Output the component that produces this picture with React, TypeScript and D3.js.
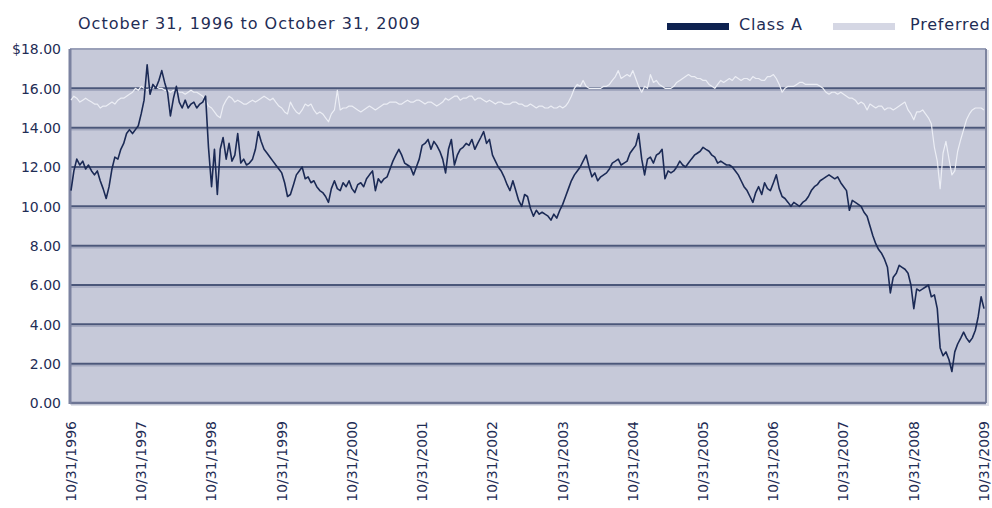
import React from 'react';
import * as d3 from 'd3';

// half-monthly closes, starting 10/31/1996
const startDate = '10/31/1996';
const stepsPerYear = 24;

const tickLabels = [
  '10/31/1996', '10/31/1997', '10/31/1998', '10/31/1999', '10/31/2000',
  '10/31/2001', '10/31/2002', '10/31/2003', '10/31/2004', '10/31/2005',
  '10/31/2006', '10/31/2007', '10/31/2008', '10/31/2009',
];
const yTicks = [0, 2, 4, 6, 8, 10, 12, 14, 16, 18];

const classA = [
  10.8, 11.8, 12.4, 12.1, 12.3, 11.9, 12.1, 11.8, 11.6, 11.8,
  11.3, 10.9, 10.4, 11.0, 11.9, 12.5, 12.4, 12.9, 13.2, 13.7,
  13.9, 13.7, 13.9, 14.1, 14.7, 15.4, 17.2, 15.7, 16.2, 16.0,
  16.4, 16.9, 16.3, 15.8, 14.6, 15.5, 16.1, 15.3, 15.0, 15.4,
  15.0, 15.2, 15.3, 15.0, 15.2, 15.3, 15.6, 13.0, 11.0, 12.9,
  10.6, 12.9, 13.5, 12.4, 13.2, 12.3, 12.6, 13.7, 12.2, 12.4,
  12.1, 12.2, 12.4, 12.9, 13.8, 13.3, 12.9, 12.7, 12.5, 12.3,
  12.1, 11.9, 11.7, 11.2, 10.5, 10.6, 11.1, 11.6, 11.8, 12.0,
  11.4, 11.5, 11.2, 11.3, 11.0, 10.8, 10.7, 10.5, 10.2, 10.9,
  11.3, 10.9, 10.8, 11.2, 11.0, 11.3, 10.9, 10.7, 11.1, 11.2,
  11.0, 11.4, 11.6, 11.8, 10.8, 11.4, 11.2, 11.4, 11.5, 11.9,
  12.3, 12.6, 12.9, 12.6, 12.2, 12.1, 12.0, 11.6, 12.0, 12.4,
  13.1, 13.2, 13.4, 12.9, 13.3, 13.1, 12.8, 12.4, 11.7, 12.9,
  13.4, 12.1, 12.6, 12.9, 13.0, 13.2, 13.1, 13.4, 12.9, 13.2,
  13.5, 13.8, 13.2, 13.4, 12.6, 12.3, 12.0, 11.8, 11.5, 11.1,
  10.8, 11.3, 10.8, 10.3, 10.0, 10.6, 10.5, 9.9, 9.5, 9.8,
  9.6, 9.7, 9.6, 9.5, 9.3, 9.6, 9.4, 9.8, 10.1, 10.5,
  10.9, 11.3, 11.6, 11.8, 12.0, 12.3, 12.6, 12.0, 11.5, 11.7,
  11.3, 11.5, 11.6, 11.7, 11.9, 12.2, 12.3, 12.4, 12.1, 12.2,
  12.3, 12.7, 12.9, 13.1, 13.7, 12.4, 11.6, 12.4, 12.5, 12.2,
  12.6, 12.7, 12.9, 11.4, 11.8, 11.7, 11.8, 12.0, 12.3, 12.1,
  12.0, 12.2, 12.4, 12.6, 12.7, 12.8, 13.0, 12.9, 12.8, 12.6,
  12.5, 12.2, 12.3, 12.2, 12.1, 12.1, 12.0, 11.8, 11.6, 11.3,
  11.0, 10.8, 10.5, 10.2, 10.7, 11.0, 10.6, 11.2, 10.9, 10.8,
  11.2, 11.6, 10.9, 10.5, 10.4, 10.2, 10.0, 10.2, 10.1, 10.0,
  10.2, 10.3, 10.5, 10.8, 11.0, 11.1, 11.3, 11.4, 11.5, 11.6,
  11.5, 11.4, 11.5, 11.2, 11.0, 10.8, 9.8, 10.3, 10.2, 10.1,
  10.0, 9.7, 9.5, 9.0, 8.5, 8.1, 7.8, 7.6, 7.3, 6.9,
  5.6, 6.4, 6.6, 7.0, 6.9, 6.8, 6.6, 6.0, 4.8, 5.8,
  5.7, 5.8, 5.9, 6.0, 5.4, 5.5, 4.8, 2.8, 2.4, 2.6,
  2.2, 1.6, 2.6, 3.0, 3.3, 3.6, 3.3, 3.1, 3.3, 3.7,
  4.4, 5.4, 4.8,
];

const preferred = [
  15.4, 15.6, 15.5, 15.3, 15.4, 15.5, 15.4, 15.3, 15.2, 15.2,
  15.0, 15.1, 15.1, 15.2, 15.3, 15.2, 15.4, 15.5, 15.5, 15.6,
  15.7, 15.8, 16.0, 15.9, 16.1, 16.0, 15.9, 16.0, 16.0, 16.1,
  16.0, 16.0, 15.9, 15.9, 15.8, 15.9, 15.9, 15.8, 15.8, 15.7,
  15.8, 15.9, 15.8, 15.8, 15.7, 15.6, 15.4, 15.1, 15.0, 14.8,
  14.6, 14.5, 15.1, 15.4, 15.6, 15.5, 15.3, 15.4, 15.3, 15.2,
  15.2, 15.3, 15.4, 15.3, 15.4, 15.5, 15.6, 15.5, 15.4, 15.5,
  15.3, 15.1, 15.0, 14.8, 14.7, 15.3, 15.0, 14.8, 14.7, 14.9,
  15.2, 15.1, 15.2, 14.9, 14.7, 14.8, 14.7, 14.5, 14.3, 14.7,
  14.9, 15.9, 14.9, 15.0, 15.0, 15.1, 15.1, 15.0, 14.9, 14.8,
  14.9, 15.0, 15.1, 15.0, 14.9, 15.0, 15.1, 15.2, 15.2, 15.3,
  15.3, 15.3, 15.2, 15.2, 15.3, 15.4, 15.3, 15.3, 15.4, 15.4,
  15.3, 15.2, 15.3, 15.3, 15.2, 15.1, 15.2, 15.3, 15.5, 15.4,
  15.5, 15.6, 15.6, 15.4, 15.5, 15.5, 15.6, 15.6, 15.4, 15.5,
  15.5, 15.4, 15.3, 15.4, 15.3, 15.2, 15.3, 15.3, 15.2, 15.2,
  15.2, 15.3, 15.3, 15.2, 15.2, 15.1, 15.1, 15.2, 15.1, 15.0,
  15.1, 15.1, 15.0, 15.0, 15.1, 15.0, 15.0, 15.1, 15.0, 15.1,
  15.3, 15.6, 16.0, 16.2, 16.1, 16.4, 16.1, 16.0, 16.0, 16.0,
  16.0, 16.0, 16.1, 16.1, 16.2, 16.4, 16.6, 16.9, 16.5, 16.6,
  16.7, 16.6, 16.9, 16.5, 16.1, 15.8, 16.1, 16.0, 16.7, 16.3,
  16.4, 16.2, 16.1, 16.0, 16.0, 16.0, 16.1, 16.3, 16.4, 16.5,
  16.6, 16.7, 16.6, 16.6, 16.5, 16.5, 16.4, 16.4, 16.2, 16.1,
  16.0, 16.2, 16.4, 16.3, 16.4, 16.5, 16.4, 16.6, 16.5, 16.4,
  16.5, 16.5, 16.4, 16.6, 16.5, 16.5, 16.4, 16.4, 16.6, 16.6,
  16.7, 16.5, 16.2, 15.8, 16.0, 16.1, 16.1, 16.1, 16.2, 16.3,
  16.3, 16.2, 16.2, 16.2, 16.2, 16.2, 16.1, 16.0, 15.8, 15.7,
  15.8, 15.8, 15.7, 15.8, 15.7, 15.6, 15.5, 15.5, 15.4, 15.2,
  15.3, 15.2, 14.9, 15.2, 15.1, 15.0, 15.1, 15.1, 14.9, 15.0,
  15.0, 14.9, 15.0, 15.1, 15.2, 15.3, 14.9, 14.7, 14.4, 14.8,
  14.8, 14.9, 14.7, 14.5, 14.2, 13.0, 12.3, 10.9, 12.7, 13.3,
  12.4, 11.6, 11.8, 12.8, 13.4, 13.9, 14.4, 14.7, 14.9, 15.0,
  15.0, 15.0, 14.9,
];

const title = 'October 31, 1996 to October 31, 2009';
const seriesNames = ['Class A', 'Preferred'];

const W = 992;
const H = 508;
const plot = {left: 70, right: 986, top: 49, bottom: 403};
const textColor = '#1f2d55';
const font = '"DejaVu Sans", sans-serif';

const parse = d3.timeParse('%m/%d/%Y');
const start = parse(startDate) as Date;
const dateAt = (i: number) =>
  d3.timeDay.offset(start, Math.round(i * 365.25 / stepsPerYear));

export default function App() {
  const tickDates = tickLabels.map((s) => parse(s) as Date);

  const x = d3.scaleTime()
      .domain([tickDates[0], tickDates[tickDates.length - 1]])
      .range([plot.left + 1, plot.right - 2]);
  const y = d3.scaleLinear().domain([0, 18]).range([plot.bottom, plot.top]);

  const line = d3.line<number>()
      .x((d, i) => x(dateAt(i)))
      .y((d) => y(d));

  return (
    <svg width={W} height={H} style={{position: 'absolute', left: 0, top: 0}}
      fontFamily={font}>
      <rect width={W} height={H} fill="#ffffff" />

      {/* title */}
      <text x={78} y={29} fill={textColor} fontSize={16} letterSpacing={1}>
        {title}
      </text>

      {/* legend */}
      <rect x={667} y={23} width={62} height={7} fill="#0e2250" />
      <text x={739} y={30} fill={textColor} fontSize={16} letterSpacing={0.8}>
        {seriesNames[0]}
      </text>
      <rect x={833} y={23} width={62} height={7} fill="#d5d7e4" />
      <text x={910} y={30} fill={textColor} fontSize={16} letterSpacing={0.8}>
        {seriesNames[1]}
      </text>

      {/* plot background with soft edge */}
      <rect x={plot.left + 1} y={plot.top + 1} width={plot.right - plot.left + 2}
        height={plot.bottom - plot.top + 2} fill="#dfe1e9" />
      <rect x={plot.left} y={plot.top} width={plot.right - plot.left}
        height={plot.bottom - plot.top} fill="#c6c9d9" />

      {/* gridlines */}
      {yTicks.filter((t) => t > 0 && t < 18).map((t) => (
        <g key={t}>
          <line x1={plot.left} x2={plot.right} y1={y(t) + 2} y2={y(t) + 2}
            stroke="#a4a9c0" strokeWidth={1.5} />
          <line x1={plot.left} x2={plot.right} y1={y(t)} y2={y(t)}
            stroke="#4b577a" strokeWidth={2} />
        </g>
      ))}

      {/* frame */}
      <line x1={plot.left} x2={plot.right} y1={plot.top} y2={plot.top}
        stroke="#9aa0b8" strokeWidth={2} />
      <line x1={plot.right} x2={plot.right} y1={plot.top} y2={plot.bottom}
        stroke="#7d849f" strokeWidth={2} />
      <line x1={plot.left} x2={plot.right} y1={plot.bottom} y2={plot.bottom}
        stroke="#6d7594" strokeWidth={2.5} />
      <line x1={plot.left} x2={plot.left} y1={plot.top} y2={plot.bottom + 1}
        stroke="#7b82a0" strokeWidth={3} />

      {/* series */}
      <path d={line(preferred) || ''} fill="none" stroke="#eceef5"
        strokeWidth={1.2} strokeLinejoin="round" />
      <path d={line(classA) || ''} fill="none" stroke="#1b2a55"
        strokeWidth={1.6} strokeLinejoin="round" />

      {/* y axis labels */}
      {yTicks.map((t) => (
        <text key={t} x={61} y={y(t)} dy="0.38em" textAnchor="end"
          fill={textColor} fontSize={14}>
          {(t === 18 ? '$' : '') + d3.format('.2f')(t)}
        </text>
      ))}

      {/* x axis labels */}
      {tickDates.map((d, i) => (
        <text key={i} transform={`translate(${x(d)},421) rotate(-90)`}
          dy="0.36em" textAnchor="end" fill={textColor} fontSize={14}>
          {tickLabels[i]}
        </text>
      ))}
    </svg>
  );
}
